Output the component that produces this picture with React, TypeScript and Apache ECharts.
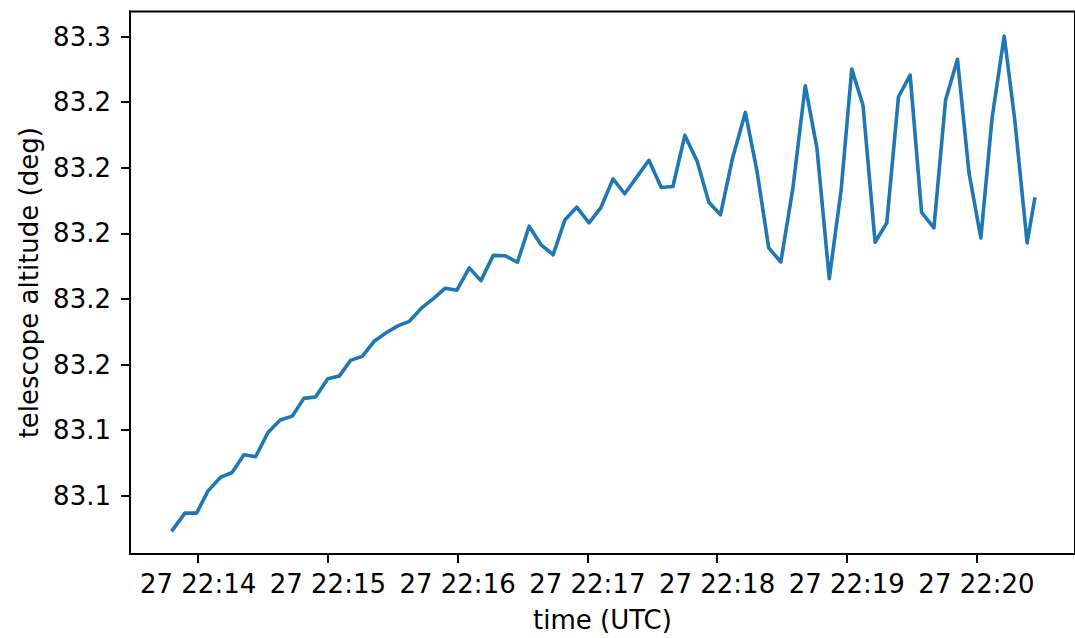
import React, { useEffect, useRef } from "react";
import * as echarts from "echarts";

// Base instant: day 27, 22:14:00 UTC
const BASE_MS = Date.UTC(2023, 0, 27, 22, 14, 0);

// Sample times, seconds relative to 22:14:00 UTC
const timeOffsetsSec = [
  -11.8, -6.1, -0.7, 4.6, 10.3, 15.7, 21.2, 26.6, 32.3, 38.0,
  43.6, 48.9, 54.3, 60.0, 65.3, 70.5, 75.9, 81.6, 87.0, 92.6,
  97.7, 103.4, 108.8, 114.3, 119.7, 125.4, 130.8, 136.5, 142.0, 147.7,
  153.1, 158.5, 164.2, 169.7, 175.1, 180.8, 186.2, 191.9, 197.3, 203.1,
  208.5, 214.2, 219.6, 225.1, 230.8, 236.2, 241.6, 247.2, 253.1, 258.5,
  263.9, 269.5, 275.1, 280.8, 286.2, 291.9, 297.4, 302.3, 307.5, 313.1,
  318.5, 323.9, 329.3, 334.6, 340.3, 345.7, 351.2, 356.5, 362.0, 367.2,
  372.8, 377.7, 383.4, 386.9,
];

// Telescope altitude (deg)
const altitudeDeg = [
  83.1096, 83.1147, 83.1147, 83.1215, 83.1256, 83.1271, 83.1325, 83.1319, 83.1393, 83.1431,
  83.1443, 83.1497, 83.1501, 83.1557, 83.1565, 83.1613, 83.1625, 83.1672, 83.1697, 83.1719,
  83.1732, 83.1773, 83.1801, 83.1833, 83.1827, 83.1895, 83.1856, 83.1933, 83.1932, 83.1912,
  83.2022, 83.1966, 83.1935, 83.2042, 83.2080, 83.2032, 83.2078, 83.2166, 83.2121, 83.2174,
  83.2223, 83.2140, 83.2143, 83.2299, 83.2220, 83.2095, 83.2057, 83.2230, 83.2369, 83.2189,
  83.1956, 83.1913, 83.2139, 83.2450, 83.2260, 83.1862, 83.2133, 83.2501, 83.2391, 83.1973,
  83.2032, 83.2416, 83.2483, 83.2064, 83.2017, 83.2407, 83.2531, 83.2186, 83.1986, 83.2352,
  83.2602, 83.2346, 83.1971, 83.2105,
];

// Tick positions
const xTickMinutes = [14, 15, 16, 17, 18, 19, 20];
const yTickValues = [83.12, 83.14, 83.16, 83.18, 83.2, 83.22, 83.24, 83.26];

const X_MIN_MS = BASE_MS - 31500;
const X_MAX_MS = BASE_MS + 405550;
const Y_MIN = 83.10225;
const Y_MAX = 83.26767;

const FONT = "DejaVu Sans";

export default function App() {
  const ref = useRef<HTMLDivElement>(null);

  useEffect(() => {
    if (!ref.current) return;
    const chart = echarts.init(ref.current, null, { renderer: "svg" });
    const data = timeOffsetsSec.map((s, i) => [BASE_MS + s * 1000, altitudeDeg[i]]);
    const xTicks = xTickMinutes.map((m) => BASE_MS + (m - 14) * 60000);
    const pad = (n: number) => (n < 10 ? "0" + n : "" + n);

    chart.setOption({
      animation: false,
      backgroundColor: "#ffffff",
      grid: {
        left: 130,
        top: 11.5,
        right: -2,
        bottom: 83,
        show: true,
        borderColor: "#000000",
        borderWidth: 2,
        containLabel: false,
      },
      xAxis: {
        type: "value",
        min: X_MIN_MS,
        max: X_MAX_MS,
        name: "time (UTC)",
        nameLocation: "middle",
        nameGap: 53,
        nameTextStyle: { fontFamily: FONT, fontSize: 26, color: "#000" },
        axisLine: { show: true, onZero: false, lineStyle: { color: "#000", width: 2 } },
        axisTick: {
          show: true,
          length: 9,
          customValues: xTicks,
          lineStyle: { color: "#000", width: 2 },
        },
        axisLabel: {
          customValues: xTicks,
          margin: 17,
          fontFamily: FONT,
          fontSize: 26,
          color: "#000",
          formatter: (v: number) => {
            const d = new Date(v);
            return `${d.getUTCDate()} ${pad(d.getUTCHours())}:${pad(d.getUTCMinutes())}`;
          },
        },
        splitLine: { show: false },
      },
      yAxis: {
        type: "value",
        min: Y_MIN,
        max: Y_MAX,
        name: "telescope altitude (deg)",
        nameLocation: "middle",
        nameGap: 87,
        nameTextStyle: { fontFamily: FONT, fontSize: 26, color: "#000" },
        axisLine: { show: true, lineStyle: { color: "#000", width: 2 } },
        axisTick: {
          show: true,
          length: 9,
          customValues: yTickValues,
          lineStyle: { color: "#000", width: 2 },
        },
        axisLabel: {
          customValues: yTickValues,
          margin: 19,
          fontFamily: FONT,
          fontSize: 26,
          color: "#000",
          formatter: (v: number) => v.toFixed(1),
        },
        splitLine: { show: false },
      },
      series: [
        {
          type: "line",
          data,
          symbol: "none",
          lineStyle: { color: "#1f77b4", width: 3.6, join: "round", cap: "square" },
          itemStyle: { color: "#1f77b4" },
        },
      ],
    });

    return () => chart.dispose();
  }, []);

  return (
    <div
      ref={ref}
      style={{ position: "fixed", left: 0, top: 0, width: 1075, height: 638, background: "#fff" }}
    />
  );
}
